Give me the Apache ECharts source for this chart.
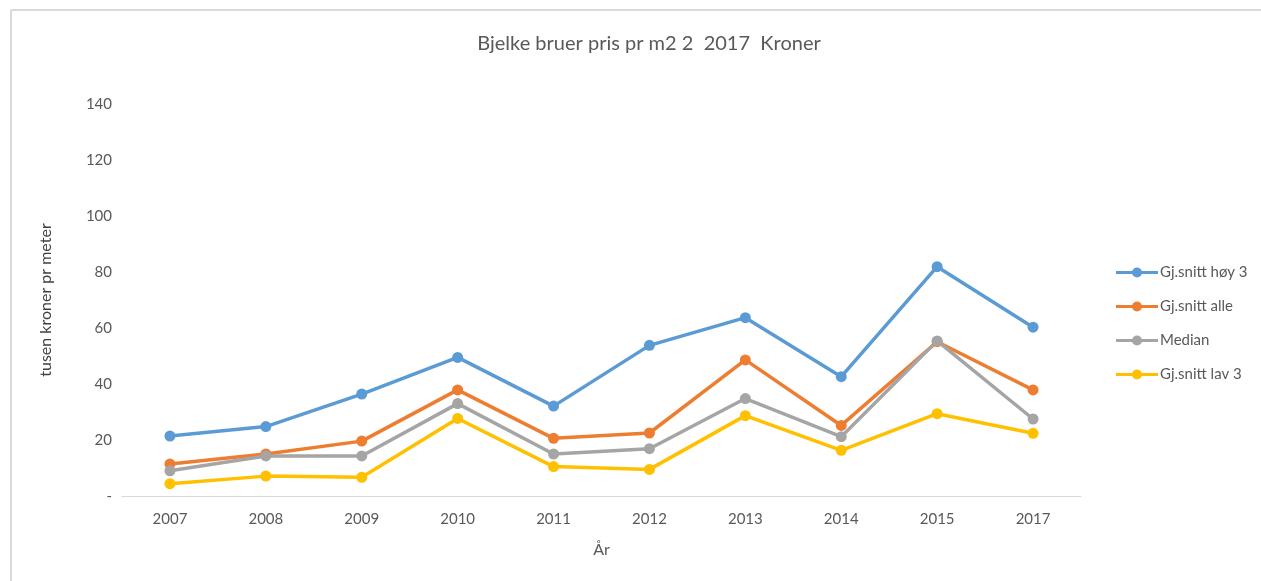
<!DOCTYPE html>
<html>
<head>
<meta charset="UTF-8">
<script type="text/javascript" src="https://cdn.jsdelivr.net/npm/echarts@6/dist/echarts.min.js"></script>
<title>Bjelke bruer</title>
<style>
	html, body { margin:0; padding:0; background:#fff; }
</style>
</head>
<body>
	<div id="main" style="width:1261px;height:581px;"></div>
	<script type="text/javascript">
		var years = ['2007','2008','2009','2010','2011','2012','2013','2014','2015','2017'];
		var hoy3 = [21.4, 24.8, 36.4, 49.5, 32.1, 53.8, 63.7, 42.6, 81.9, 60.3];
		var alle = [11.4, 15.0, 19.6, 37.9, 20.6, 22.5, 48.6, 25.2, 55.1, 37.9];
		var median = [9.0, 14.3, 14.3, 33.0, 15.0, 16.9, 34.8, 21.2, 55.4, 27.5];
		var lav3 = [4.4, 7.1, 6.7, 27.7, 10.5, 9.5, 28.7, 16.3, 29.4, 22.4];
		var yTicks = ['-', '20', '40', '60', '80', '100', '120', '140'];

		var font = 'Lato, "Open Sans", sans-serif';
		// legend marker: line with a dot in the middle
		var legendIcon = 'path://M0,3.5 L42,3.5 L42,6.5 L0,6.5 Z M26,5 A5,5 0 1,1 16,5 A5,5 0 1,1 26,5 Z';
		var myChart = echarts.init(document.getElementById("main"));

		function line(name, data, color) {
			return {
				name: name,
				type: 'line',
				data: data,
				symbol: 'circle',
				symbolSize: 11,
				lineStyle: { width: 3.5, color: color },
				itemStyle: { color: color },
				animation: false
			};
		}

		var option = {
			backgroundColor: '#fff',
			title: {
				text: 'Bjelke bruer pris pr m2 2  2017  Kroner',
				left: 644,
				top: 29,
				textAlign: 'center',
				textStyle: { fontFamily: font, fontSize: 20, fontWeight: 'normal', color: '#595959' }
			},
			legend: {
				orient: 'vertical',
				left: 1111,
				top: 260,
				itemGap: 19,
				itemWidth: 42,
				itemHeight: 10,
				textStyle: { fontFamily: font, fontSize: 15, color: '#595959', padding: [0, 0, 0, -3] },
				data: [
					{ name: 'Gj.snitt høy 3', icon: legendIcon },
					{ name: 'Gj.snitt alle', icon: legendIcon },
					{ name: 'Median', icon: legendIcon },
					{ name: 'Gj.snitt lav 3', icon: legendIcon }
				]
			},
			grid: { left: 122, right: 180, top: 104, bottom: 85 },
			xAxis: {
				type: 'category',
				data: years,
				boundaryGap: true,
				name: 'År',
				nameLocation: 'middle',
				nameGap: 46,
				nameTextStyle: { fontFamily: font, fontSize: 16, color: '#595959' },
				axisLine: { lineStyle: { color: '#d9d9d9', width: 1 } },
				axisTick: { show: false },
				axisLabel: { fontFamily: font, fontSize: 15, color: '#595959', margin: 16 }
			},
			yAxis: {
				type: 'value',
				min: 0,
				max: 140,
				interval: 20,
				name: 'tusen kroner pr meter',
				nameLocation: 'middle',
				nameRotate: 90,
				nameGap: 68,
				nameTextStyle: { fontFamily: font, fontSize: 16, color: '#404040' },
				axisLine: { show: false },
				axisTick: { show: false },
				splitLine: { show: false },
				axisLabel: {
					fontFamily: font, fontSize: 15, color: '#595959', margin: 10,
					formatter: function (v) { return yTicks[Math.round(v / 20)]; }
				}
			},
			graphic: [
				{ type: 'line', shape: { x1: 11, y1: 10, x2: 1261, y2: 10 }, style: { stroke: '#d9d9d9', lineWidth: 2 } },
				{ type: 'line', shape: { x1: 11, y1: 10, x2: 11, y2: 581 }, style: { stroke: '#d9d9d9', lineWidth: 2 } }
			],
			series: [
				line('Gj.snitt høy 3', hoy3, '#5b9bd5'),
				line('Gj.snitt alle', alle, '#ed7d31'),
				line('Median', median, '#a5a5a5'),
				line('Gj.snitt lav 3', lav3, '#ffc000')
			]
		};
		myChart.setOption(option);
	</script>
</body>
</html>
